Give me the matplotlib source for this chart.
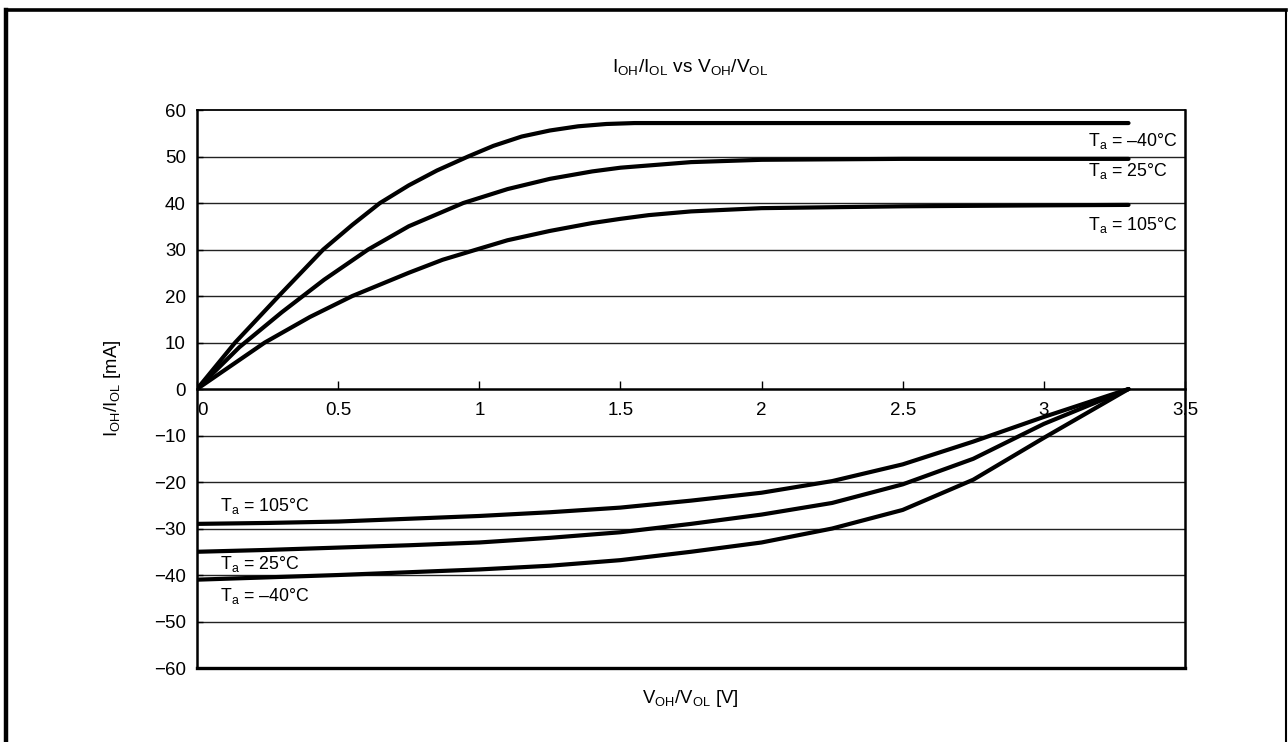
import numpy as np
import matplotlib
matplotlib.use('Agg')
import matplotlib.pyplot as plt
from matplotlib.lines import Line2D

plt.rcParams['font.family'] = ['Liberation Sans', 'DejaVu Sans']
plt.rcParams['mathtext.fontset'] = 'custom'
plt.rcParams['mathtext.rm'] = 'Liberation Sans'

# I_OH curves (upper half)
v_oh_m40 = [0, 0.135, 0.294, 0.447, 0.55, 0.648, 0.75, 0.85, 0.96, 1.05, 1.15, 1.25, 1.35, 1.45, 1.55, 2.0, 2.5, 3.0, 3.3]
i_oh_m40 = [0, 10, 20.3, 30, 35.3, 40, 43.8, 47, 50, 52.3, 54.3, 55.6, 56.5, 57, 57.2, 57.2, 57.2, 57.2, 57.2]
v_oh_25 = [0, 0.15, 0.3, 0.45, 0.606, 0.75, 0.943, 1.1, 1.25, 1.4, 1.5, 1.75, 2.0, 2.5, 3.0, 3.3]
i_oh_25 = [0, 9, 16.5, 23.5, 30, 35, 40, 43, 45.2, 46.8, 47.6, 48.8, 49.3, 49.5, 49.5, 49.5]
v_oh_105 = [0, 0.24, 0.4, 0.55, 0.75, 0.87, 0.99, 1.1, 1.25, 1.4, 1.5, 1.6, 1.75, 2.0, 2.5, 3.0, 3.3]
i_oh_105 = [0, 10, 15.5, 20, 25, 27.8, 30, 32, 34, 35.7, 36.6, 37.4, 38.2, 38.9, 39.3, 39.5, 39.6]

# I_OL curves (lower half)
v_ol = [0, 0.25, 0.5, 0.75, 1.0, 1.25, 1.5, 1.75, 2.0, 2.25, 2.5, 2.75, 3.0, 3.3]
i_ol_m40 = [-41, -40.5, -40, -39.4, -38.8, -38, -36.8, -35, -33, -30, -26, -19.5, -10.5, 0]
i_ol_25 = [-35, -34.6, -34.1, -33.6, -33, -32, -30.8, -29, -27, -24.5, -20.5, -15, -7.5, 0]
i_ol_105 = [-29, -28.8, -28.5, -27.9, -27.3, -26.5, -25.5, -24, -22.3, -19.8, -16.2, -11.3, -6, 0]

x_ticks = [0, 0.5, 1, 1.5, 2, 2.5, 3, 3.5]
x_tick_labels = ['0', '0.5', '1', '1.5', '2', '2.5', '3', '3.5']
y_ticks = list(range(-60, 61, 10))

fig = plt.figure(figsize=(12.88, 7.42), dpi=100)
ax = fig.add_axes([0.153, 0.0997, 0.767, 0.752])

for y in y_ticks:
    if y not in (0, 60, -60):
        ax.axhline(y, color='#222222', lw=1.0, zorder=1)

lw = 3.0
for vx, iy in [(v_oh_m40, i_oh_m40), (v_oh_25, i_oh_25), (v_oh_105, i_oh_105),
               (v_ol, i_ol_m40), (v_ol, i_ol_25), (v_ol, i_ol_105)]:
    ax.plot(vx, iy, color='k', lw=lw, zorder=3, solid_capstyle='round', solid_joinstyle='round')

ax.set_xlim(0, 3.5)
ax.set_ylim(-60, 60)

ax.spines['bottom'].set_position(('data', 0))
ax.spines['bottom'].set_linewidth(1.8)
ax.spines['left'].set_linewidth(1.8)
ax.spines['right'].set_linewidth(1.8)
ax.spines['top'].set_linewidth(1.3)
ax.axhline(-60, color='k', lw=2.4, clip_on=False, zorder=4)

ax.set_xticks(x_ticks)
ax.set_xticklabels(x_tick_labels)
ax.set_yticks(y_ticks)
ax.tick_params(axis='x', direction='in', length=6, width=1, pad=9, labelsize=13.5)
ax.tick_params(axis='y', direction='in', length=4, width=1, pad=8, labelsize=13.5)
ax.get_xticklabels()[0].set_horizontalalignment('left')

fs = 12.8
ax.text(3.155, 53.4, r'T$_\mathregular{a}$ = –40°C', fontsize=fs, va='center', ha='left')
ax.text(3.155, 46.8, r'T$_\mathregular{a}$ = 25°C', fontsize=fs, va='center', ha='left')
ax.text(3.155, 35.2, r'T$_\mathregular{a}$ = 105°C', fontsize=fs, va='center', ha='left')
ax.text(0.08, -25.2, r'T$_\mathregular{a}$ = 105°C', fontsize=fs, va='center', ha='left')
ax.text(0.08, -37.6, r'T$_\mathregular{a}$ = 25°C', fontsize=fs, va='center', ha='left')
ax.text(0.08, -44.5, r'T$_\mathregular{a}$ = –40°C', fontsize=fs, va='center', ha='left')

fig.text(0.5357, 0.909, r'I$_\mathregular{OH}$/I$_\mathregular{OL}$ vs V$_\mathregular{OH}$/V$_\mathregular{OL}$',
         fontsize=13.8, ha='center', va='center')
fig.text(0.5357, 0.059, r'V$_\mathregular{OH}$/V$_\mathregular{OL}$ [V]',
         fontsize=13.3, ha='center', va='center')
fig.text(0.0877, 0.476, r'I$_\mathregular{OH}$/I$_\mathregular{OL}$ [mA]',
         fontsize=13.3, ha='center', va='center', rotation=90)

# outer frame
fig.add_artist(Line2D([0.0043, 0.0043], [-0.01, 0.987], color='k', lw=3.2))
fig.add_artist(Line2D([0.0043, 0.9985], [0.987, 0.987], color='k', lw=2.6))
fig.add_artist(Line2D([0.9985, 0.9985], [-0.01, 0.987], color='k', lw=1.5))

fig.savefig('out.png', dpi=100)
